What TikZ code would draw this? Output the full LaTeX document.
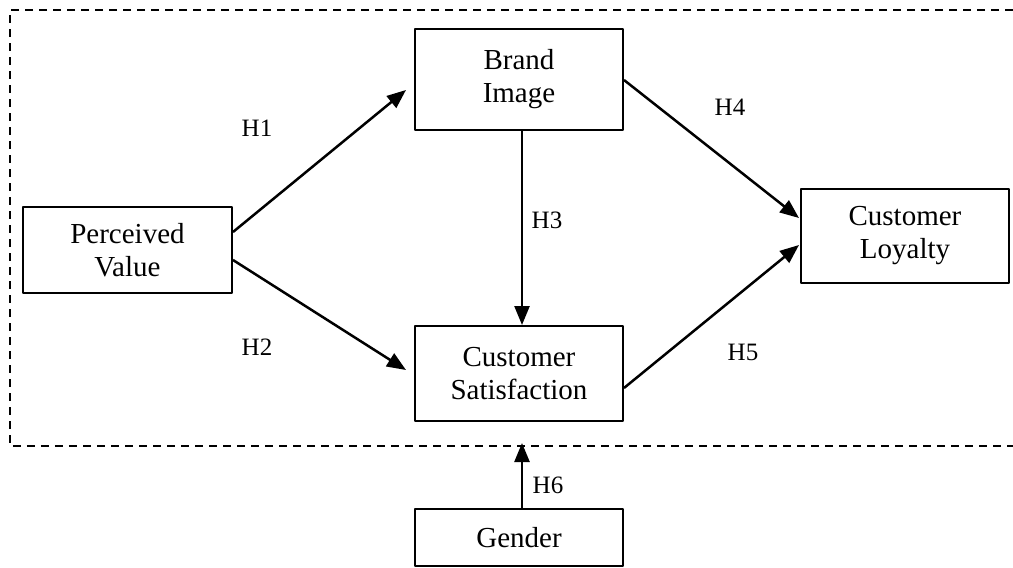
\documentclass[tikz,border=0pt]{standalone}
\usepackage{fontspec}
\setmainfont{Liberation Serif}
\usetikzlibrary{arrows.meta,calc}

\tikzset{
  varbox/.style={draw,line width=2pt,align=center,inner sep=0pt,
    font=\fontsize{29}{33}\selectfont},
  hlabel/.style={font=\fontsize{25}{28}\selectfont,inner sep=0pt},
  path/.style={line width=2.5pt,-{Triangle[length=19pt,width=15pt]}},
  frame/.style={line width=1.8pt,dash pattern=on 8pt off 6pt}
}

\begin{document}
\begin{tikzpicture}[x=1pt,y=-1pt,join=round]
        \useasboundingbox (0,0) rectangle (1013,568);
        \draw[frame] (1013,10) -- (10,10) -- (10,446) -- (1013,446);
        \node[varbox,minimum width=208pt,minimum height=101pt] (bi) at (519,79.5) {Brand\\Image};
        \node[varbox,minimum width=209pt,minimum height=86pt] (pv) at (127.5,250) {Perceived\\Value};
        \node[varbox,minimum width=208pt,minimum height=94pt] (cl) at (905,236) {Customer\\Loyalty};
        \node[varbox,minimum width=208pt,minimum height=95pt] (cs) at (519,373.5) {Customer\\Satisfaction};
        \node[varbox,minimum width=208pt,minimum height=57pt] (gd) at (519,537.5) {Gender};
        \coordinate (mod) at (522,443);
        \draw[path] ($(pv.east)+(0,-18)$) -- ($(bi.west)+(-8,10.5)$);
        \draw[path] ($(pv.east)+(0,10)$) -- ($(cs.west)+(-8,-3.5)$);
        \draw[path] ($(bi.south)+(3,0)$) -- ($(cs.north)+(3,0)$);
        \draw[path] ($(bi.east)+(0,0.5)$) -- ($(cl.west)+(-1,-18)$);
        \draw[path] ($(cs.east)+(0,14.5)$) -- ($(cl.west)+(-1,9)$);
        \draw[path] ($(gd.north)+(3,0)$) -- (mod);
        \node[hlabel] (h1) at (257,128) {H1};
        \node[hlabel] (h2) at (257,347) {H2};
        \node[hlabel] (h3) at (547,220) {H3};
        \node[hlabel] (h4) at (730,107) {H4};
        \node[hlabel] (h5) at (743,352) {H5};
        \node[hlabel] (h6) at (548,485) {H6};
\end{tikzpicture}
\end{document}
